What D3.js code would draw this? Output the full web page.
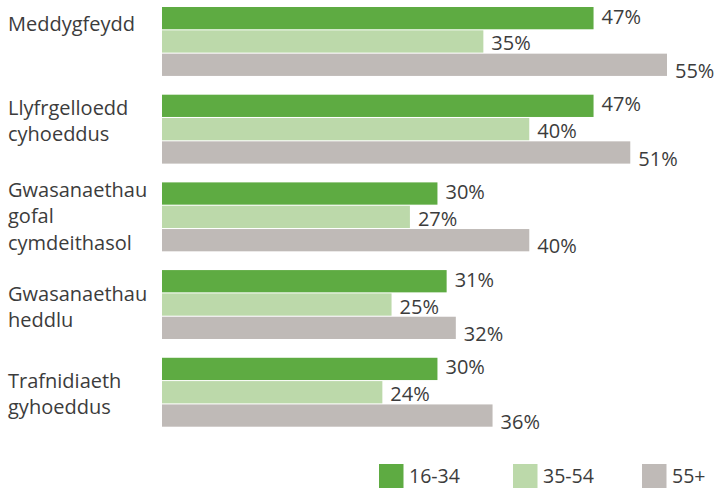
<!DOCTYPE html>
<html>
<head>
<meta charset="utf-8">
<script src="https://cdn.jsdelivr.net/npm/d3@7"></script>
<style>
  html, body { margin: 0; padding: 0; background: #fff; }
  svg { display: block; }
  text { font-family: "Open Sans", sans-serif; fill: #3c3c3c; }
</style>
</head>
<body>
<svg id="chart" width="714" height="488"></svg>
<script>
// ---- data ----
const categories = ["Meddygfeydd", "Llyfrgelloedd cyhoeddus", "Gwasanaethau gofal cymdeithasol", "Gwasanaethau heddlu", "Trafnidiaeth gyhoeddus"];
const categoryLines = [["Meddygfeydd"], ["Llyfrgelloedd", "cyhoeddus"], ["Gwasanaethau", "gofal", "cymdeithasol"], ["Gwasanaethau", "heddlu"], ["Trafnidiaeth", "gyhoeddus"]];
const seriesNames = ["16-34", "35-54", "55+"];
const values1634 = [47, 47, 30, 31, 30];
const values3554 = [35, 40, 27, 25, 24];
const values55 = [55, 51, 40, 32, 36];

// ---- style / layout ----
const colors = ["#5eab42", "#bcd9aa", "#bfbab7"];
const labelDy = [-2, 1.5, 5.8];          // value label vertical nudge per series
const catFirstBaseline = [24, 20.3, 14.7, 30.7, 30.3]; // first line baseline below group top
const lineHeight = 26.3;
const legendX = [379, 513, 642];

const seriesValues = [values1634, values3554, values55];
const svg = d3.select("#chart");

const x = d3.scaleLinear().domain([0, 55]).range([162, 667]);
const y0 = d3.scaleBand().domain(categories).range([7, 426.7]).paddingInner(0.214).paddingOuter(0);
const y1 = d3.scaleBand().domain(seriesNames).range([0, y0.bandwidth()]).paddingInner(0.045).paddingOuter(0);

const groups = svg.selectAll("g.grp").data(categories).join("g")
  .attr("class", "grp")
  .attr("transform", d => `translate(0,${y0(d)})`);

groups.each(function(cat, ci) {
  const g = d3.select(this);
  seriesNames.forEach((s, si) => {
    const v = seriesValues[si][ci];
    g.append("rect")
      .attr("x", x(0))
      .attr("y", y1(s))
      .attr("width", x(v) - x(0))
      .attr("height", y1.bandwidth())
      .attr("fill", colors[si]);
    g.append("text")
      .attr("x", x(v) + 8)
      .attr("y", y1(s) + y1.bandwidth() / 2 + labelDy[si])
      .attr("dominant-baseline", "central")
      .attr("font-size", 20)
      .text(v + "%");
  });
  const t = g.append("text")
    .attr("x", 8)
    .attr("y", catFirstBaseline[ci])
    .attr("font-size", 20);
  categoryLines[ci].forEach((line, li) => {
    t.append("tspan").attr("x", 8).attr("dy", li === 0 ? 0 : lineHeight).text(line);
  });
});

// legend
const lg = svg.selectAll("g.leg").data(seriesNames).join("g")
  .attr("class", "leg")
  .attr("transform", (d, i) => `translate(${legendX[i]},464)`);
lg.append("rect").attr("width", 24.5).attr("height", 24).attr("fill", (d, i) => colors[i]);
lg.append("text").attr("x", 30).attr("y", 18.5).attr("font-size", 19.5).text(d => d);
</script>
</body>
</html>
